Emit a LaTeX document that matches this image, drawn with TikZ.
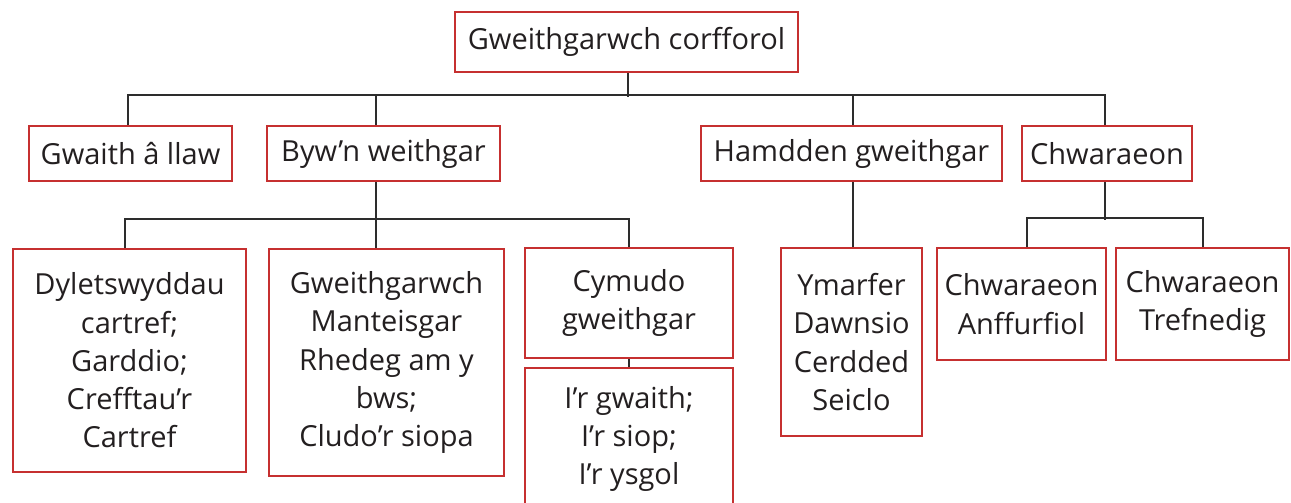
\documentclass[tikz,border=0pt]{standalone}
\usepackage{fontspec}
\setmainfont{Open Sans}
\definecolor{boxred}{RGB}{198,48,48}
\definecolor{txt}{RGB}{35,31,32}
\definecolor{conncol}{RGB}{45,45,45}
\begin{document}
\begin{tikzpicture}[x=1pt,y=-1pt,
  box/.style={draw=boxred,line width=2.6pt,fill=white,inner sep=0pt,align=center,text=txt,
    font=\fontsize{29}{38.3}\selectfont},
  conn/.style={draw=conncol,line width=2pt}]
\useasboundingbox[fill=white] (0,0) rectangle (1291,503);
\node[box,minimum width=343,minimum height=60] (top) at (626.5,42) {Gweithgarwch corfforol};
\node[box,minimum width=203,minimum height=55] (gwaith) at (130.5,153.5) {Gwaith â llaw};
\node[box,minimum width=233,minimum height=55] (byw) at (383.5,153.5) {Byw’n weithgar};
\node[box,minimum width=301,minimum height=55] (hamdden) at (851.5,153.5) {Hamdden gweithgar};
\node[box,minimum width=170,minimum height=55] (chwar) at (1107,153.5) {Chwaraeon};
\node[box,minimum width=233,minimum height=223] (dylet) at (129.5,360.5) {Dyletswyddau\\cartref;\\Garddio;\\Crefftau’r\\Cartref};
\node[box,minimum width=235,minimum height=227] (gweith) at (386.5,362.5) {Gweithgarwch\\Manteisgar\\Rhedeg am y\\bws;\\Cludo’r siopa};
\node[box,minimum width=208,minimum height=110] (cymudo) at (629,303) {Cymudo\\gweithgar};
\node[box,minimum width=208,minimum height=142] (ir) at (629,439) {I’r gwaith;\\I’r siop;\\I’r ysgol};
\node[box,minimum width=141,minimum height=188] (ymarfer) at (851.5,342) {Ymarfer\\Dawnsio\\Cerdded\\Seiclo};
\node[box,minimum width=169,minimum height=112] (anff) at (1021.5,304) {Chwaraeon\\Anffurfiol};
\node[box,minimum width=173,minimum height=112] (tref) at (1202.5,304) {Chwaraeon\\Trefnedig};
% level 1 connectors
\draw[conn] ([xshift=-2.5pt]gwaith.north) -- ++(0,-30) -| ([xshift=-2pt]chwar.north);
\draw[conn] ([xshift=1.5pt]top.south) -- ++(0,24);
\draw[conn] ([xshift=-7.5pt]byw.north) -- ++(0,-30);
\draw[conn] ([xshift=1.5pt]hamdden.north) -- ++(0,-30);
% level 2 connectors
\draw[conn] ([xshift=-4.5pt]dylet.north) -- ++(0,-29) -| (cymudo.north);
\draw[conn] ([xshift=-7.5pt]byw.south) -- ([xshift=-10.5pt]gweith.north);
\draw[conn] ([xshift=1.5pt]hamdden.south) -- ([xshift=1.5pt]ymarfer.north);
\draw[conn] ([xshift=-2pt]chwar.south) -- ++(0,38);
\draw[conn] ([xshift=5.5pt]anff.north) -- ++(0,-29) -| (tref.north);
\draw[conn] (cymudo.south) -- (ir.north);
\end{tikzpicture}
\end{document}
